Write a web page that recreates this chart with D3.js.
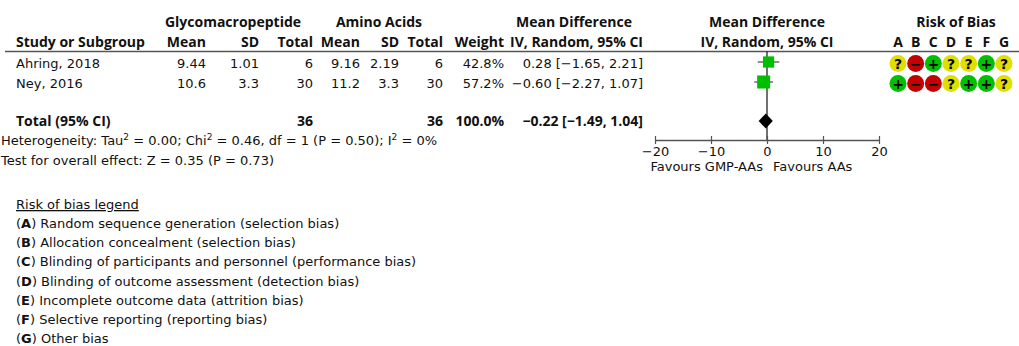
<!DOCTYPE html>
<html>
<head>
<meta charset="utf-8">
<script src="https://cdn.jsdelivr.net/npm/d3@7/dist/d3.min.js"></script>
<style>
  html, body { margin: 0; padding: 0; background: #fff; }
  svg { display: block; }
  text { font-family: "DejaVu Sans", sans-serif; font-size: 13px; fill: #111; }
  .b { font-family: "Open Sans", "DejaVu Sans", sans-serif; font-weight: bold; font-size: 14px; }
  .sym { font-family: "DejaVu Sans", sans-serif; font-weight: bold; font-size: 14px; fill: #000; }
</style>
</head>
<body>
<svg id="chart" width="1019" height="346"></svg>
<script>
// Study rows
const studies = ["Ahring, 2018", "Ney, 2016"];
const gmpMean = [9.44, 10.6];
const gmpSD = [1.01, 3.3];
const gmpN = [6, 30];
const aaMean = [9.16, 11.2];
const aaSD = [2.19, 3.3];
const aaN = [6, 30];
const weights = [42.8, 57.2];
const meanDiff = [0.28, -0.60];
const ciLow = [-1.65, -2.27];
const ciHigh = [2.21, 1.07];

// Pooled estimate
const totalGmpN = 36;
const totalAaN = 36;
const totalWeight = 100.0;
const pooledMD = -0.22;
const pooledLow = -1.49;
const pooledHigh = 1.04;

// Risk of bias judgements, domains A–G
const biasDomains = ["A", "B", "C", "D", "E", "F", "G"];
const biasRatings = [
  ["?", "-", "+", "?", "?", "+", "?"],
  ["+", "-", "-", "?", "+", "+", "?"]
];
const biasLegend = [
  "Random sequence generation (selection bias)",
  "Allocation concealment (selection bias)",
  "Blinding of participants and personnel (performance bias)",
  "Blinding of outcome assessment (detection bias)",
  "Incomplete outcome data (attrition bias)",
  "Selective reporting (reporting bias)",
  "Other bias"
];

const axisTicks = [-20, -10, 0, 10, 20];

const svg = d3.select("#chart");
const minus = s => s.replace(/-/g, "\u2212");
const f2 = d3.format(".2f");
const ciText = (m, l, h) => minus(`${f2(m)} [${f2(l)}, ${f2(h)}]`);

// Row positions
const rowY = d3.scalePoint().domain(studies).range([62, 82]);
const totalY = 121;

// Forest plot scale
const x = d3.scaleLinear().domain([-20, 20]).range([655, 879]);
const boxSize = d3.scaleSqrt().domain([0, 100]).range([0, 17.2]);

// Table column anchors
const col = {
  study: 16, gMean: 206, gSD: 259, gN: 313,
  aMean: 360, aSD: 399, aN: 443, w: 504, md: 643
};

function txt(xp, yp, s, anchor = "start", bold = false) {
  return svg.append("text").attr("x", xp).attr("y", yp)
    .attr("text-anchor", anchor).classed("b", bold).text(s);
}

// Headers
txt(233, 27, "Glycomacropeptide", "middle", true);
txt(379, 27, "Amino Acids", "middle", true);
txt(574, 27, "Mean Difference", "middle", true);
txt(767, 27, "Mean Difference", "middle", true);
txt(956, 27, "Risk of Bias", "middle", true);

txt(col.study, 47, "Study or Subgroup", "start", true);
txt(col.gMean, 47, "Mean", "end", true);
txt(col.gSD, 47, "SD", "end", true);
txt(col.gN, 47, "Total", "end", true);
txt(col.aMean, 47, "Mean", "end", true);
txt(col.aSD, 47, "SD", "end", true);
txt(col.aN, 47, "Total", "end", true);
txt(col.w, 47, "Weight", "end", true);
txt(col.md, 47, "IV, Random, 95% CI", "end", true);
txt(767, 47, "IV, Random, 95% CI", "middle", true);

// Risk of bias columns
const rob = d3.scalePoint().domain(biasDomains).range([898, 1004]);
biasDomains.forEach(d => txt(rob(d), 47, d, "middle", true));

// Header rule
svg.append("line").attr("x1", 5).attr("x2", 1019).attr("y1", 51.5).attr("y2", 51.5)
  .attr("stroke", "#555").attr("stroke-width", 1.5);

// Study rows
studies.forEach((s, i) => {
  const y = rowY(s) + 5.5;
  txt(col.study, y, s);
  txt(col.gMean, y, String(gmpMean[i]), "end");
  txt(col.gSD, y, String(gmpSD[i]), "end");
  txt(col.gN, y, gmpN[i], "end");
  txt(col.aMean, y, String(aaMean[i]), "end");
  txt(col.aSD, y, String(aaSD[i]), "end");
  txt(col.aN, y, aaN[i], "end");
  txt(col.w, y, weights[i].toFixed(1) + "%", "end");
  txt(col.md, y, ciText(meanDiff[i], ciLow[i], ciHigh[i]), "end");
});

// Total row
const ty = totalY + 4.5;
txt(col.study, ty, "Total (95% CI)", "start", true);
txt(col.gN, ty, totalGmpN, "end", true);
txt(col.aN, ty, totalAaN, "end", true);
txt(col.w, ty, totalWeight.toFixed(1) + "%", "end", true);
txt(col.md, ty, ciText(pooledMD, pooledLow, pooledHigh), "end", true);

// Heterogeneity and overall effect
const het = svg.append("text").attr("x", 1).attr("y", 145);
het.append("tspan").text("Heterogeneity: Tau");
het.append("tspan").attr("dy", -5).attr("font-size", 9).text("2");
het.append("tspan").attr("dy", 5).text(" = 0.00; Chi");
het.append("tspan").attr("dy", -5).attr("font-size", 9).text("2");
het.append("tspan").attr("dy", 5).text(" = 0.46, df = 1 (P = 0.50); I");
het.append("tspan").attr("dy", -5).attr("font-size", 9).text("2");
het.append("tspan").attr("dy", 5).text(" = 0%");
txt(1, 164.5, "Test for overall effect: Z = 0.35 (P = 0.73)");

// Forest plot: zero line
svg.append("line").attr("x1", x(0)).attr("x2", x(0)).attr("y1", 51.5).attr("y2", 140)
  .attr("stroke", "#111").attr("stroke-width", 1.2);

// Confidence intervals and weighted boxes
const g = svg.append("g");
g.selectAll("line.ci").data(studies).join("line").attr("class", "ci")
  .attr("x1", (d, i) => x(ciLow[i])).attr("x2", (d, i) => x(ciHigh[i]))
  .attr("y1", d => rowY(d)).attr("y2", d => rowY(d))
  .attr("stroke", "#222").attr("stroke-width", 1);
g.selectAll("rect.box").data(studies).join("rect").attr("class", "box")
  .attr("x", (d, i) => x(meanDiff[i]) - boxSize(weights[i]) / 2)
  .attr("y", (d, i) => rowY(d) - boxSize(weights[i]) / 2)
  .attr("width", (d, i) => boxSize(weights[i]))
  .attr("height", (d, i) => boxSize(weights[i]))
  .attr("fill", "#00bf00");

// Pooled diamond
svg.append("path")
  .attr("d", `M${x(pooledLow)},${totalY} L${x(pooledMD)},${totalY - 7.5} L${x(pooledHigh)},${totalY} L${x(pooledMD)},${totalY + 7.5} Z`)
  .attr("fill", "#000");

// Axis
const axis = svg.append("g").attr("transform", "translate(0,140)")
  .call(d3.axisBottom(x).tickValues(axisTicks).tickSize(4).tickSizeOuter(0)
    .tickFormat(d => minus(String(d))));
axis.attr("font-family", null).attr("font-size", null);
axis.select(".domain").attr("stroke", "#555").attr("stroke-width", 1.5);
axis.selectAll(".tick line").attr("y1", -4).attr("y2", 4).attr("stroke", "#555").attr("stroke-width", 1.2);
axis.selectAll(".tick text").attr("y", 16).attr("dy", null).attr("fill", "#111");

txt(763, 170.5, "Favours GMP-AAs", "end");
txt(773, 170.5, "Favours AAs", "start");

// Risk of bias dots
const fillFor = { "+": "#00c000", "-": "#c40000", "?": "#e0e000" };
studies.forEach((s, i) => {
  const cy = rowY(s) + 1.5;
  const rg = svg.append("g");
  rg.selectAll("circle").data(biasRatings[i]).join("circle")
    .attr("cx", (d, j) => rob(biasDomains[j])).attr("cy", cy).attr("r", 8.5)
    .attr("fill", d => fillFor[d]);
  rg.selectAll("text").data(biasRatings[i]).join("text")
    .attr("x", (d, j) => rob(biasDomains[j])).attr("y", cy + 5.5)
    .attr("text-anchor", "middle").attr("class", "sym")
    .text(d => d === "-" ? "\u2212" : d);
});

// Risk of bias legend
txt(16, 209, "Risk of bias legend").attr("text-decoration", "underline");
biasLegend.forEach((s, i) => {
  const t = svg.append("text").attr("x", 16).attr("y", 228 + i * 19.2);
  t.append("tspan").text("(");
  t.append("tspan").attr("font-weight", "bold").text(biasDomains[i]);
  t.append("tspan").text(") " + s);
});
</script>
</body>
</html>
